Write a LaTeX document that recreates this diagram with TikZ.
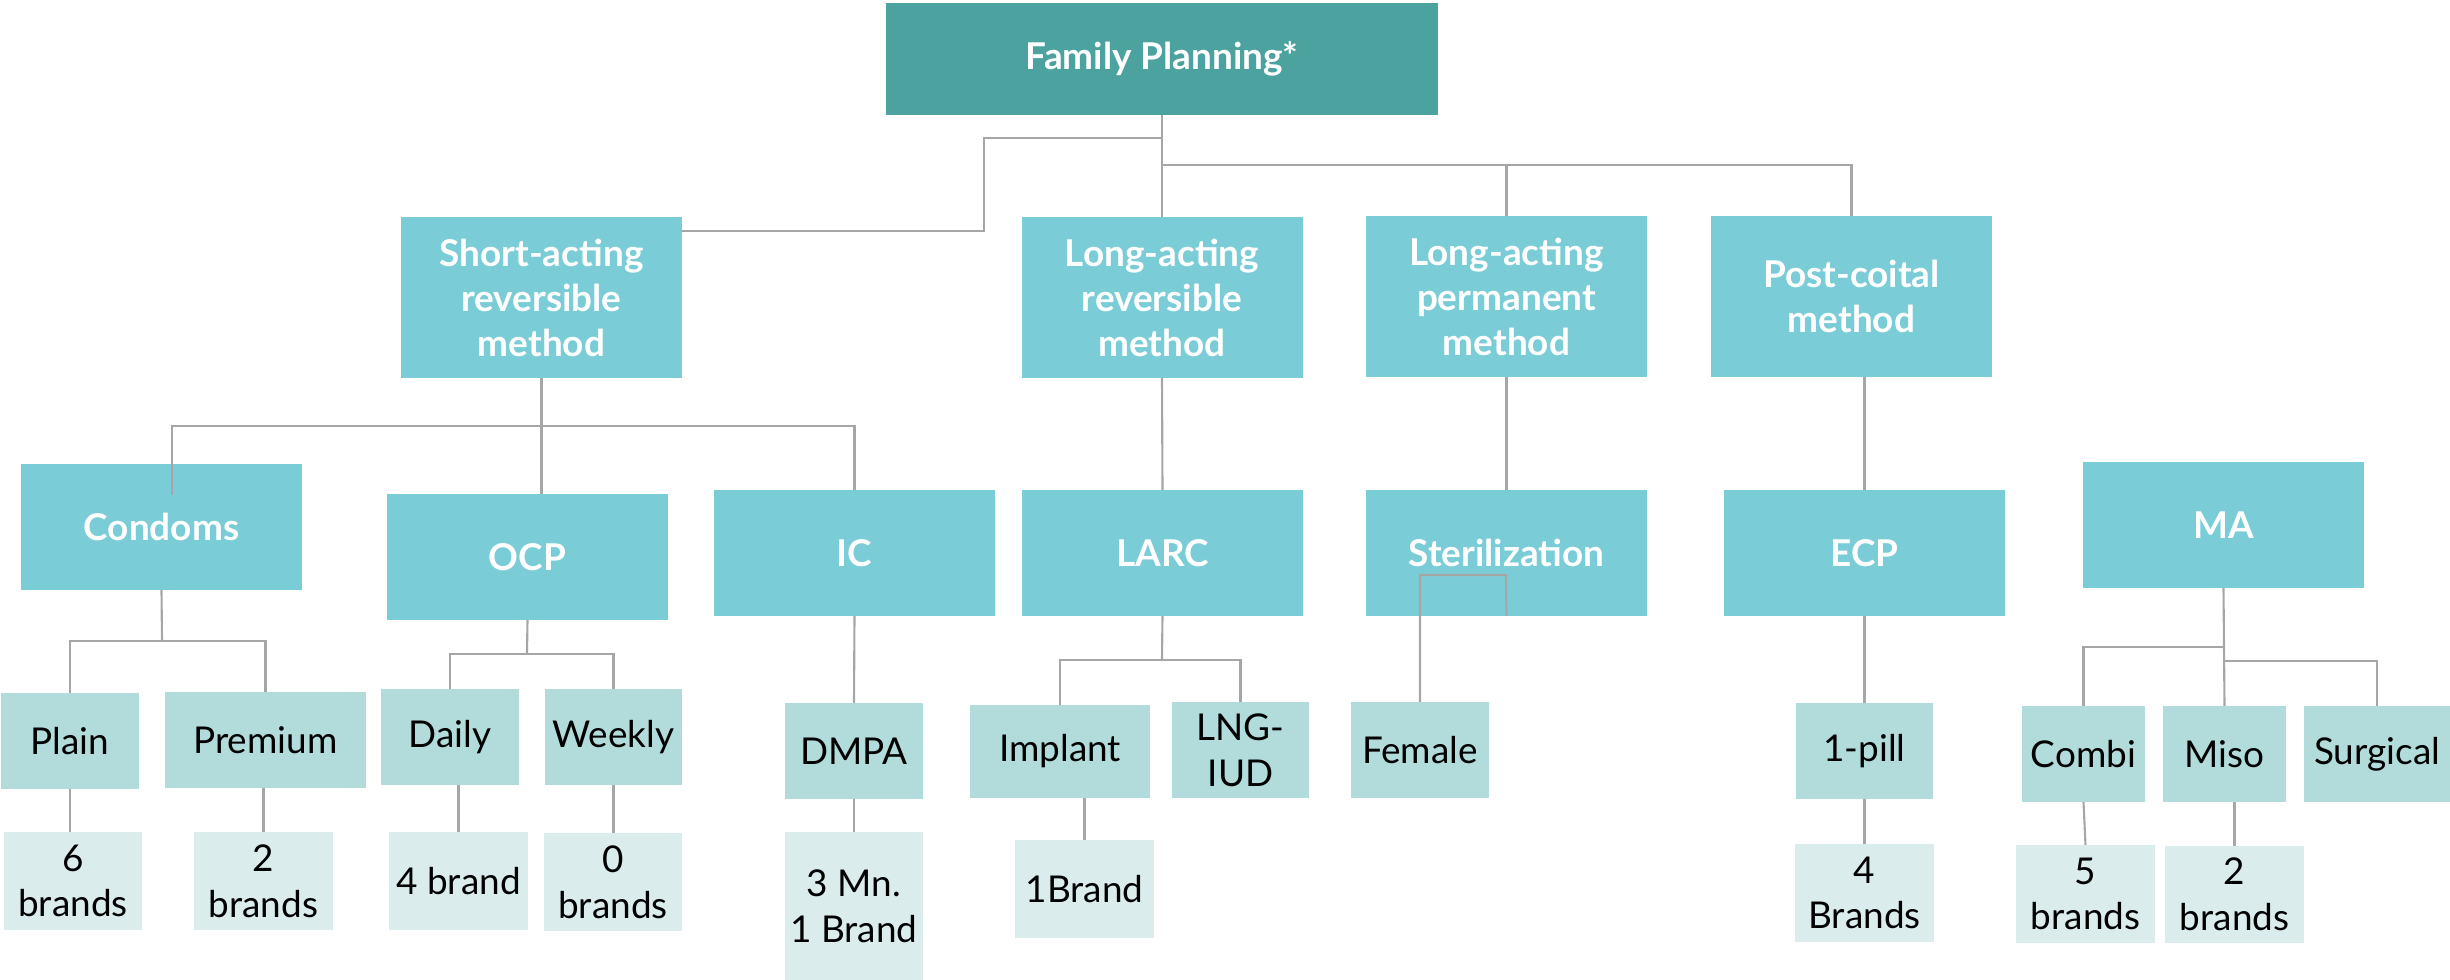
\documentclass[tikz,border=0pt]{standalone}
\usepackage{fontspec}
\setmainfont{Lato}
\definecolor{cTop}{HTML}{4BA29F}
\definecolor{cMid}{HTML}{7ACDD6}
\definecolor{cLow}{HTML}{B2DCDC}
\definecolor{cLeaf}{HTML}{DAEDEC}
\definecolor{cLine}{HTML}{A6A6A6}
\begin{document}
\begin{tikzpicture}[x=0.01cm,y=-0.01cm,
  base/.style={inner sep=0pt, outer sep=0pt, align=center, font=\fontsize{10.5}{13}\selectfont},
  sz/.style 2 args={minimum width=#1*0.01cm, minimum height=#2*0.01cm},
  topbox/.style={base, fill=cTop, text=white, font=\fontsize{10.5}{13}\selectfont\bfseries},
  midbox/.style={base, fill=cMid, text=white, font=\fontsize{10.5}{12.8}\selectfont\bfseries},
  lowbox/.style={base, fill=cLow, text=black},
  leafbox/.style={base, fill=cLeaf, text=black},
  link/.style={draw=cLine, line width=0.6pt}
]
\useasboundingbox (0,0) rectangle (2450,980);

% level 1
\node[topbox, sz={552}{112}] (fp) at (1162,59) {Family Planning*};

% level 2
\node[midbox, sz={281}{161}] (short) at (541.5,297.5) {Short-acting\\reversible\\method};
\node[midbox, sz={281}{161}] (lar) at (1162,297.5) {Long-acting\\reversible\\method};
\node[midbox, sz={281}{161}] (lap) at (1506.5,296.5) {Long-acting\\permanent\\method};
\node[midbox, sz={281}{161}] (pc) at (1851.5,296.5) {Post-coital\\method};

% level 3
\node[midbox, sz={281}{126}] (cond) at (161.5,527) {Condoms};
\node[midbox, sz={281}{126}] (ocp) at (527.5,557) {OCP};
\node[midbox, sz={281}{126}] (ic) at (854.5,553) {IC};
\node[midbox, sz={281}{126}] (larc) at (1162.5,553) {LARC};
\node[midbox, sz={281}{126}] (ster) at (1506.5,553) {Sterilization};
\node[midbox, sz={281}{126}] (ecp) at (1864.5,553) {ECP};
\node[midbox, sz={281}{126}] (ma) at (2223.5,525) {MA};

% level 4
\node[lowbox, sz={138}{96}] (plain) at (70,741) {Plain};
\node[lowbox, sz={201}{96}] (prem) at (265.5,740) {Premium};
\node[lowbox, sz={138}{96}] (daily) at (450,737) {Daily};
\node[lowbox, sz={137}{96}] (weekly) at (613.5,737) {Weekly};
\node[lowbox, sz={138}{96}] (dmpa) at (854,751) {DMPA};
\node[lowbox, sz={180}{93}] (impl) at (1060,751.5) {Implant};
\node[lowbox, sz={137}{96}] (lng) at (1240.5,750) {LNG-\\IUD};
\node[lowbox, sz={138}{96}] (fem) at (1420,750) {Female};
\node[lowbox, sz={137}{96}] (pill) at (1864.5,751) {1-pill};
\node[lowbox, sz={123}{96}] (combi) at (2083.5,754) {Combi};
\node[lowbox, sz={123}{96}] (miso) at (2224.5,754) {Miso};
\node[lowbox, sz={146}{96}] (surg) at (2377,754) {Surgical};

% level 5
\node[leafbox, sz={138}{98}] (b6) at (73,881) {6\\brands};
\node[leafbox, sz={139}{98}] (b2) at (263.5,881) {2\\brands};
\node[leafbox, sz={139}{98}] (b4) at (458.5,881) {4 brand};
\node[leafbox, sz={138}{98}] (b0) at (613,882) {0\\brands};
\node[leafbox, sz={138}{148}] (b3) at (854,906) {3 Mn.\\1 Brand};
\node[leafbox, sz={139}{98}] (b1) at (1084.5,889) {1Brand};
\node[leafbox, sz={139}{98}] (b4b) at (1864.5,893) {4\\Brands};
\node[leafbox, sz={139}{98}] (b5) at (2085.5,894) {5\\brands};
\node[leafbox, sz={139}{97}] (b2m) at (2234.5,894.5) {2\\brands};

% junction coordinates
\coordinate (j0) at (1162,138);
\coordinate (j0b) at (984,231);
\coordinate (j1) at (1162,165);
\coordinate (cbar) at (172,426);
\coordinate (cdrop) at (172,495);
\coordinate (cj) at (162,641);
\coordinate (oj) at (527,654);
\coordinate (lj) at (1162,660);
\coordinate (s1) at (1506,575);
\coordinate (mj1) at (2223,647);
\coordinate (mj2) at (2223,661);

% level 1 -> 2
\draw[link] (fp.south) -- (lar.north);
\draw[link] (j0) -| (j0b) -- (short.east |- j0b);
\draw[link] (j1) -| (lap.north);
\draw[link] (j1) -| (pc.north);

% level 2 -> 3
\draw[link] (short.south) -- (short.south |- ocp.north);
\draw[link] (cdrop) -- (cbar) -| (ic.north);
\draw[link] (lar.south) -- (larc.north);
\draw[link] (lap.south) -- (ster.north);
\draw[link] (ecp.north |- pc.south) -- (ecp.north);

% level 3 -> 4
\draw[link] (cond.south) -- (cj);
\draw[link] (plain.north) |- (cj) -| (prem.north);
\draw[link] (ocp.south) -- (oj);
\draw[link] (daily.north) |- (oj) -| (weekly.north);
\draw[link] (ic.south) -- (dmpa.north);
\draw[link] (larc.south) -- (lj);
\draw[link] (impl.north) |- (lj) -| (lng.north);
\draw[link] (ster.south) -- (s1) -| (fem.north);
\draw[link] (ecp.south) -- (pill.north);
\draw[link] (ma.south) -- (miso.north);
\draw[link] (mj1) -| (combi.north);
\draw[link] (mj2) -| (surg.north);

% level 4 -> 5
\draw[link] (plain.south) -- (plain.south |- b6.north);
\draw[link] (b2.north |- prem.south) -- (b2.north);
\draw[link] (b4.north |- daily.south) -- (b4.north);
\draw[link] (weekly.south) -- (weekly.south |- b0.north);
\draw[link] (dmpa.south) -- (b3.north);
\draw[link] (b1.north |- impl.south) -- (b1.north);
\draw[link] (pill.south) -- (b4b.north);
\draw[link] (combi.south) -- (b5.north);
\draw[link] (b2m.north |- miso.south) -- (b2m.north);
\end{tikzpicture}
\end{document}
